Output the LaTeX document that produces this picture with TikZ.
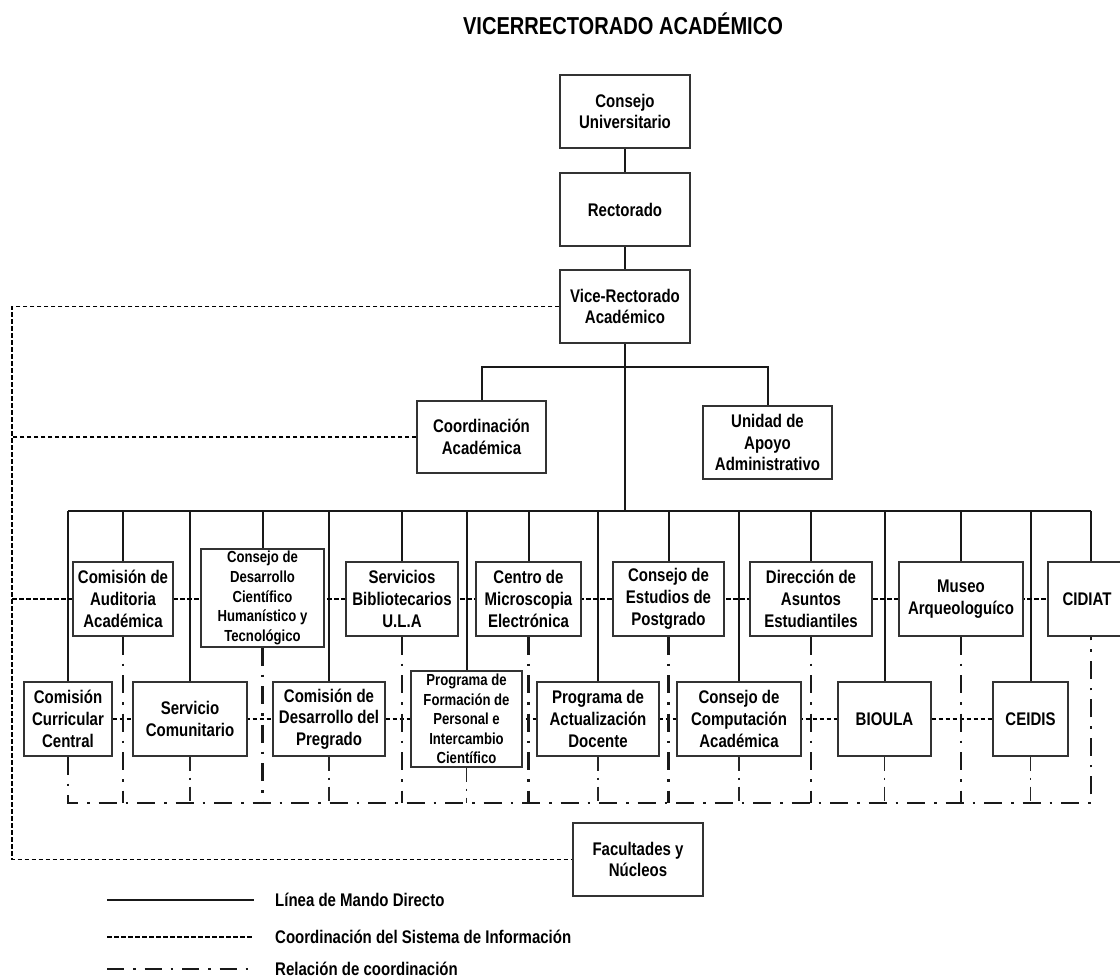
\documentclass[tikz,border=0pt]{standalone}
\usepackage{fontspec}
\setmainfont{Liberation Sans}[FakeStretch=0.82]
\usetikzlibrary{calc}
\pgfdeclarelayer{background}
\pgfsetlayers{background,main}

\tikzset{
  orgbox/.style={draw=black!80, line width=1.3pt, fill=white, inner sep=0pt, align=center,
    font=\fontsize{18.3}{21.7}\selectfont\bfseries},
  smallbox/.style={orgbox, font=\fontsize{16}{19.6}\selectfont\bfseries},
  direct/.style={draw=black!90, line width=2pt},
  infoline/.style={draw=black, line width=1.9pt, dash pattern=on 4.5pt off 2.5pt},
  coordline/.style={draw=black!90, line width=2.4pt, dash pattern=on 18pt off 9pt on 2.5pt off 9pt},
  coordthin/.style={draw=black!85, line width=1.5pt, dash pattern=on 14pt off 7pt on 2pt off 7pt},
  legtext/.style={anchor=west, inner sep=0pt, font=\fontsize{18.3}{21.7}\selectfont\bfseries},
  titletext/.style={inner sep=0pt, font=\fontsize{24.5}{28}\selectfont\bfseries},
}

\newcommand\orgbx[7]{\node[#1, minimum width=#5, minimum height=#6] (#2) at (#3,#4) {#7};}

\begin{document}
\begin{tikzpicture}[x=1pt,y=-1pt]
\useasboundingbox (0,0) rectangle (1120,979);

\node[titletext] (title) at (623,24) {VICERRECTORADO ACADÉMICO};

% top column
\orgbx{orgbox}{cu}{625}{111.5}{130}{73}{Consejo\\Universitario}
\orgbx{orgbox}{rec}{625}{209.5}{130}{73}{Rectorado}
\orgbx{orgbox}{vice}{625}{306.5}{130}{73}{Vice-Rectorado\\Académico}
\orgbx{orgbox}{coord}{481.5}{437}{129}{72}{Coordinación\\Académica}
\orgbx{orgbox}{unidad}{767.5}{442.5}{129}{73}{Unidad de\\Apoyo\\Administrativo}

% row 1
\orgbx{orgbox}{aud}{123}{599}{100}{74}{Comisión de\\Auditoria\\Académica}
\orgbx{smallbox}{cdcht}{262.5}{598}{123}{98}{Consejo de\\Desarrollo\\Científico\\Humanístico y\\Tecnológico}
\orgbx{orgbox}{sb}{402}{599}{112}{74}{Servicios\\Bibliotecarios\\U.L.A}
\orgbx{orgbox}{cme}{528.5}{599}{105}{74}{Centro de\\Microscopia\\Electrónica}
\orgbx{orgbox}{cep}{668.5}{599}{111}{74}{Consejo de\\Estudios de\\Postgrado}
\orgbx{orgbox}{dae}{811}{599}{122}{74}{Dirección de\\Asuntos\\Estudiantiles}
\orgbx{orgbox}{museo}{961}{599}{124}{74}{Museo\\Arqueologuíco}
\node[orgbox, minimum width=86, minimum height=74, text width=78] (cidiat) at (1091,599) {\hspace*{-8pt}CIDIAT};

% row 2
\orgbx{orgbox}{ccc}{68}{719}{88}{74}{Comisión\\Curricular\\Central}
\orgbx{orgbox}{sc}{190}{719}{114}{74}{Servicio\\Comunitario}
\orgbx{orgbox}{cdp}{329}{719}{112}{74}{Comisión de\\Desarrollo del\\Pregrado}
\orgbx{smallbox}{pfp}{466.5}{719}{111}{96}{Programa de\\Formación de\\Personal e\\Intercambio\\Científico}
\orgbx{orgbox}{pad}{598}{719}{122}{74}{Programa de\\Actualización\\Docente}
\orgbx{orgbox}{cca}{739}{719}{124}{74}{Consejo de\\Computación\\Académica}
\orgbx{orgbox}{bioula}{884.5}{719}{93}{74}{BIOULA}
\orgbx{orgbox}{ceidis}{1030.5}{719}{75}{74}{CEIDIS}

\orgbx{orgbox}{fac}{638}{859.5}{130}{73}{Facultades y\\Núcleos}

\coordinate (busy) at (0,511);
\coordinate (bry) at (0,367);
\coordinate (leftx) at (12,0);
\coordinate (ddy) at (0,803);

% legend
\coordinate (l1a) at (107,900); \coordinate (l1b) at (254,900);
\coordinate (l2a) at (107,937); \coordinate (l2b) at (254,937);
\coordinate (l3a) at (107,969); \coordinate (l3b) at (254,969);
\node[legtext] (lt1) at (275,900) {Línea de Mando Directo};
\node[legtext] (lt2) at (275,937) {Coordinación del Sistema de Información};
\node[legtext] (lt3) at (275,969) {Relación de coordinación};

\begin{pgfonlayer}{background}
  % direct command lines
  \draw[direct] (cu.south) -- (rec.north);
  \draw[direct] (rec.south) -- (vice.north);
  \draw[direct] (vice.south) -- (vice.south |- busy);
  \draw[direct] (coord.north) -- (coord.north |- bry) -- (unidad.north |- bry) -- (unidad.north);
  \draw[direct] (ccc.north |- busy) -- (cidiat.north |- busy);
  \foreach \n in {ccc,aud,sc,cdcht,cdp,sb,pfp,cme,pad,cep,cca,dae,bioula,museo,ceidis,cidiat}
    \draw[direct] (\n.north) -- (\n.north |- busy);

  % information system coordination
  \draw[infoline] (vice.west) -- (vice.west -| leftx) -- (fac.west -| leftx) -- (fac.west);
  \draw[infoline] (coord.west) -- (coord.west -| leftx);
  \draw[infoline] (aud.west -| leftx) -- (cidiat.west);
  \draw[infoline] (ccc.east) -- (ceidis.west);

  % coordination relation
  \draw[coordline] (ccc.south) -- (ccc.south |- ddy) -- (cidiat.south |- ddy) -- (cidiat.south);
  \foreach \n in {aud,cdcht,sb,cme,cep,dae,museo}
    \draw[coordline] (\n.south) -- (\n.south |- ddy);
  \foreach \n in {sc,cdp,pfp,pad,cca,bioula,ceidis}
    \draw[coordthin] (\n.south) -- (\n.south |- ddy);

  % legend lines
  \draw[direct] (l1a) -- (l1b);
  \draw[infoline] (l2a) -- (l2b);
  \draw[coordline, dash pattern=on 17pt off 9pt on 2.5pt off 9pt] (l3a) -- (l3b);
\end{pgfonlayer}
\end{tikzpicture}
\end{document}
